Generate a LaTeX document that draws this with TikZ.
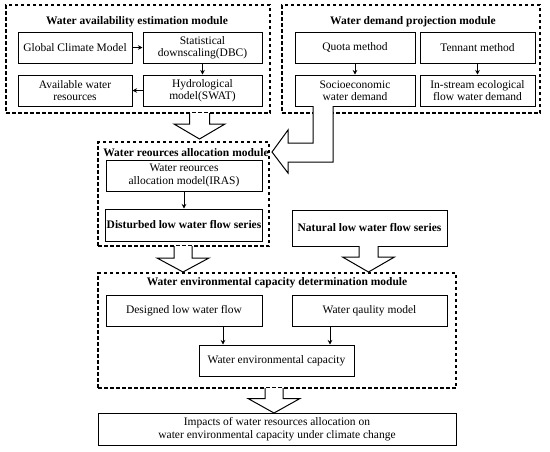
\documentclass[tikz,border=0pt]{standalone}
\usepackage{fontspec}
\setmainfont{Liberation Serif}
\usetikzlibrary{arrows.meta}

\begin{document}
\begin{tikzpicture}[x=1pt, y=-1pt,
  every node/.style={font=\fontsize{11.5}{12.5}\selectfont},
  box/.style={draw, line width=1pt, minimum height=31pt, align=center, inner sep=1pt},
  module/.style={draw, dash pattern=on 3.5pt off 2.5pt, line width=1.2pt},
  title/.style={font=\fontsize{11.5}{12.5}\selectfont\bfseries},
  link/.style={-{Stealth[length=4.5pt,width=4.5pt]}, line width=0.8pt},
  bigarrow/.style={draw, line width=1pt, fill=white, line join=miter}]
\useasboundingbox (0,0) rectangle (550,451);

% water availability estimation module
\node[module, minimum width=264pt, minimum height=108pt] (avamod) at (138,59) {};
\node[title] (avatitle) at (137,22) {Water availability estimation module};
\node[box, minimum width=114pt] (gcm) at (75,47.5) {Global Climate Model};
\node[box, minimum width=119pt] (dbc) at (202.5,47.5) {Statistical\\downscaling(DBC)};
\node[box, minimum width=114pt] (avail) at (75,90.5) {Available water\\resources};
\node[box, minimum width=119pt] (swat) at (202.5,90.5) {Hydrological\\model(SWAT)};
\draw[link] (gcm) -- (dbc);
\draw[link] (dbc) -- (swat);
\draw[link] (swat) -- (avail);

% water demand projection module
\node[module, minimum width=258pt, minimum height=108pt] (demmod) at (411,59) {};
\node[title] (demtitle) at (413,22) {Water demand projection module};
\node[box, minimum width=120pt] (quota) at (355,47.5) {Quota method};
\node[box, minimum width=115pt] (tennant) at (477.5,47.5) {Tennant method};
\node[box, minimum width=120pt] (socio) at (355,90.5) {Socioeconomic\\water demand};
\node[box, minimum width=115pt] (instream) at (477.5,90.5) {In-stream ecological\\flow water demand};
\draw[link] (quota) -- (socio);
\draw[link] (tennant) -- (instream);

% water resources allocation module
\node[module, minimum width=171pt, minimum height=104pt] (allmod) at (183.5,194) {};
\node[title] (alltitle) at (186,153) {Water reources allocation module};
\node[box, minimum width=156pt] (iras) at (184,175.5) {Water reources\\allocation model(IRAS)};
\node[box, minimum width=156pt, minimum height=32pt, font=\fontsize{11.5}{12.5}\selectfont\bfseries] (disturbed) at (184,225) {Disturbed low water flow series};
\node[box, minimum width=155pt, minimum height=36pt, font=\fontsize{11.5}{12.5}\selectfont\bfseries] (natural) at (369.5,228) {Natural low water flow series};
\draw[link] (iras) -- (disturbed);

% water environmental capacity determination module
\node[module, minimum width=358pt, minimum height=115pt] (capmod) at (277,330.5) {};
\node[title] (captitle) at (277,283) {Water environmental capacity determination module};
\node[box, minimum width=156pt] (designed) at (184,310.5) {Designed low water flow};
\node[box, minimum width=155pt] (quality) at (369.5,310.5) {Water qaulity model};
\node[box, minimum width=155pt] (capacity) at (276.5,360.5) {Water environmental capacity};
\draw[link] ([xshift=39pt]designed.south) -- ([xshift=39pt]designed.south |- capacity.north);
\draw[link] ([xshift=-39.5pt]quality.south) -- ([xshift=-39.5pt]quality.south |- capacity.north);

\node[box, minimum width=358pt, minimum height=32pt] (impacts) at (277,429) {Impacts of water resources allocation on\\water environmental capacity under climate change};

% block arrows
\draw[bigarrow] (189.5,113) -- (189.5,124) -- (174,124) -- (199.5,139) -- (225,124) -- (209.5,124) -- (209.5,113);
\draw[bigarrow] (313,106) -- (313,143) -- (288,143) -- (288,130) -- (272,152) -- (288,173) -- (288,162) -- (333,162) -- (333,106);
\draw[bigarrow] (174,246) -- (174,258) -- (157,258) -- (183,272) -- (209,258) -- (192,258) -- (192,246);
\draw[bigarrow] (359,246) -- (359,257) -- (342.5,257) -- (368.5,272) -- (394.5,257) -- (378,257) -- (378,246);
\draw[bigarrow] (265,388) -- (265,398.5) -- (248,398.5) -- (274,413) -- (300,398.5) -- (283,398.5) -- (283,388);
\end{tikzpicture}
\end{document}
